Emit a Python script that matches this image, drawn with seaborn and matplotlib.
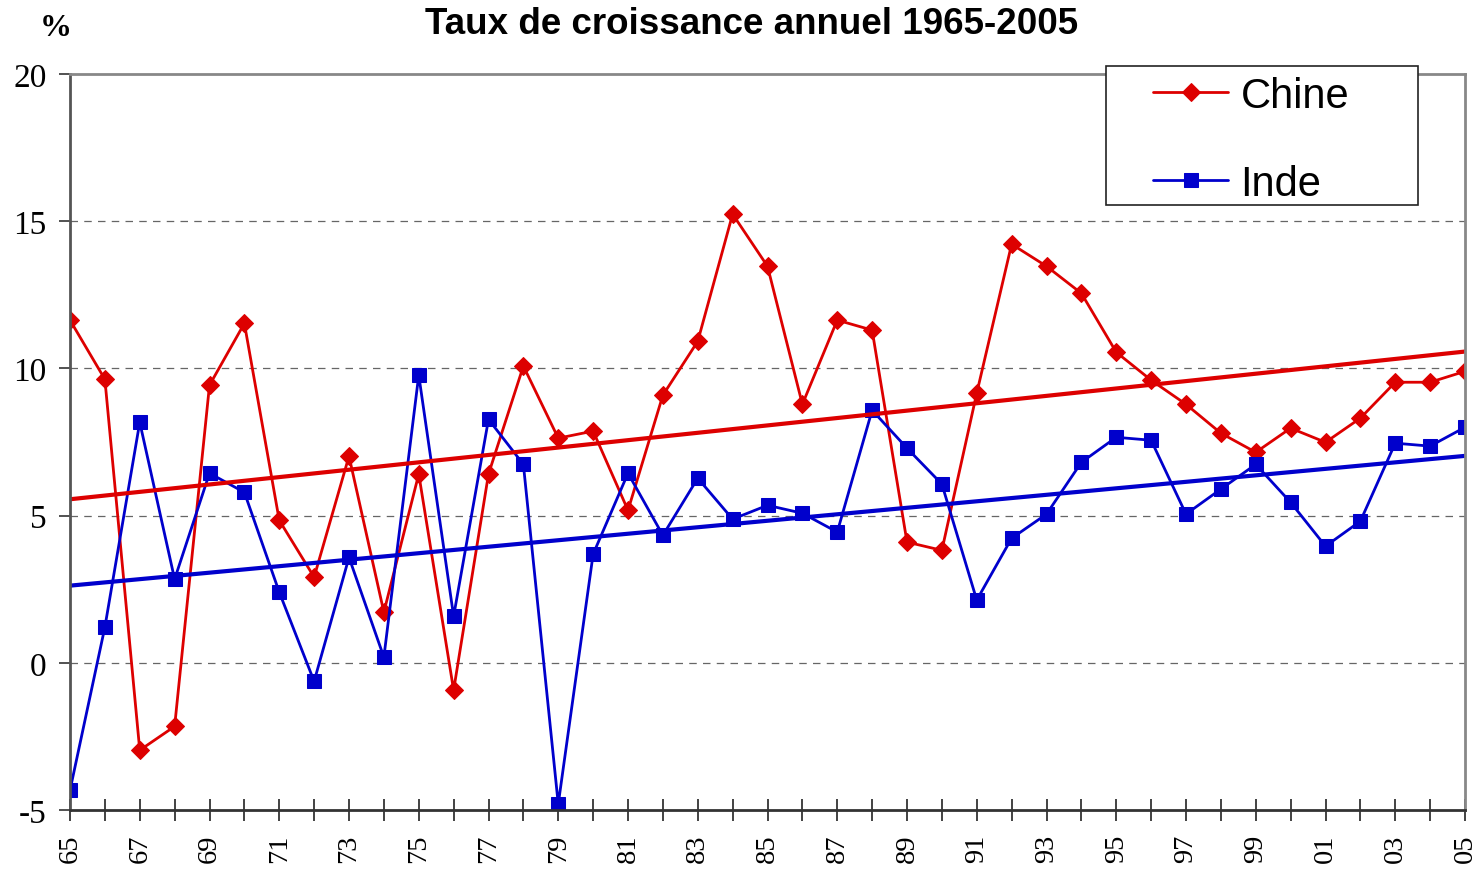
import numpy as np
import pandas as pd
import matplotlib
matplotlib.use("Agg")
import matplotlib.pyplot as plt
from matplotlib.patches import Rectangle
import seaborn as sns

years = list(range(1965, 2006))
chine = [11.64, 9.63, -2.97, -2.16, 9.43, 11.53, 4.84, 2.91, 7.02, 1.72,
         6.41, -0.93, 6.41, 10.08, 7.63, 7.87, 5.18, 9.09, 10.92, 15.24,
         13.47, 8.78, 11.64, 11.30, 4.10, 3.82, 9.16, 14.22, 13.47, 12.55,
         10.55, 9.60, 8.78, 7.80, 7.15, 7.97, 7.49, 8.31, 9.53, 9.53, 9.90]
inde = [-4.33, 1.21, 8.17, 2.84, 6.44, 5.79, 2.40, -0.63, 3.58, 0.19,
        9.77, 1.58, 8.27, 6.74, -4.80, 3.69, 6.44, 4.33, 6.27, 4.88,
        5.35, 5.08, 4.44, 8.58, 7.29, 6.07, 2.13, 4.23, 5.05, 6.81,
        7.66, 7.56, 5.05, 5.90, 6.74, 5.45, 3.96, 4.81, 7.46, 7.36, 8.00]
series_names = ["Chine", "Inde"]
title = "Taux de croissance annuel 1965-2005"
y_ticks = [-5, 0, 5, 10, 15, 20]

df = pd.DataFrame({"year": years, "Chine": chine, "Inde": inde})

sns.set_theme(style="white")
plt.rcParams["font.family"] = ["Liberation Serif", "DejaVu Serif"]
plt.rcParams["text.color"] = "black"
plt.rcParams["xtick.color"] = "black"
plt.rcParams["ytick.color"] = "black"

W, H = 1475, 870
fig = plt.figure(figsize=(W / 100, H / 100), dpi=100)
ax = fig.add_axes([70 / W, 1 - 811 / H, (1465 - 70) / W, (811 - 75) / H])

red = "#DD0000"
blue = "#0000CC"

sns.lineplot(data=df, x="year", y="Chine", ax=ax, color=red, lw=2,
             marker="D", markersize=9, markeredgecolor=red, label="Chine")
sns.lineplot(data=df, x="year", y="Inde", ax=ax, color=blue, lw=2,
             marker="s", markersize=10.5, markeredgecolor=blue, label="Inde")
sns.regplot(data=df, x="year", y="Chine", ax=ax, scatter=False, ci=None,
            truncate=True, line_kws=dict(color=red, lw=3))
sns.regplot(data=df, x="year", y="Inde", ax=ax, scatter=False, ci=None,
            truncate=True, line_kws=dict(color=blue, lw=3))

handles, labels = ax.get_legend_handles_labels()
if ax.get_legend() is not None:
    ax.get_legend().remove()

ax.set_xlim(1965, 2005)
ax.set_ylim(-5, 20)
ax.set_yticks(y_ticks)
ax.set_yticklabels([str(v) for v in y_ticks], fontsize=24)
ax.set_xticks(years, minor=True)
major = years[::2]
ax.set_xticks(major)
ax.set_xticklabels([f"{y % 100:02d}" for y in major], rotation=90, fontsize=20.5)
ax.tick_params(axis="x", which="both", direction="inout", length=16, width=1.2,
               color="#222222", bottom=True, pad=9)
ax.tick_params(axis="y", which="major", direction="out", length=8, width=1.2,
               color="#333333", left=True, pad=9)
ax.set_xlabel("")
ax.set_ylabel("")

for v in [0, 5, 10, 15]:
    ax.axhline(v, color="#666666", lw=0.9, ls=(0, (6, 5)), zorder=0)

ax.spines["left"].set_color("#555555")
ax.spines["left"].set_linewidth(2)
ax.spines["bottom"].set_color("#333333")
ax.spines["bottom"].set_linewidth(2)
ax.spines["top"].set_color("#888888")
ax.spines["top"].set_linewidth(2)
ax.spines["right"].set_color("#888888")
ax.spines["right"].set_linewidth(2)
for s in ax.spines.values():
    s.set_visible(True)

fig.text(752 / W, 1 - 24 / H, title, ha="center", va="center",
         fontsize=26.5, fontweight="bold", family=["Liberation Sans", "DejaVu Sans"])
fig.text(56 / W, 1 - 28 / H, "%", ha="center", va="center",
         fontsize=23, fontweight="bold")

# legend box
box = Rectangle((1106 / W, 1 - 206 / H), (1418 - 1106) / W, (206 - 67) / H,
                transform=fig.transFigure, facecolor="white", edgecolor="#222222",
                lw=1.2, zorder=9)
fig.add_artist(box)

leg = fig.legend(handles[:2], series_names, loc="center left",
                 bbox_to_anchor=(1153 / W, 1 - 141 / H), bbox_transform=fig.transFigure,
                 prop=dict(family="Liberation Sans", size=30), frameon=False,
                 handlelength=1.8, labelspacing=1.15, borderpad=0, borderaxespad=0,
                 handletextpad=0.3)
leg.set_zorder(10)

fig.savefig("out.png", dpi=100)
